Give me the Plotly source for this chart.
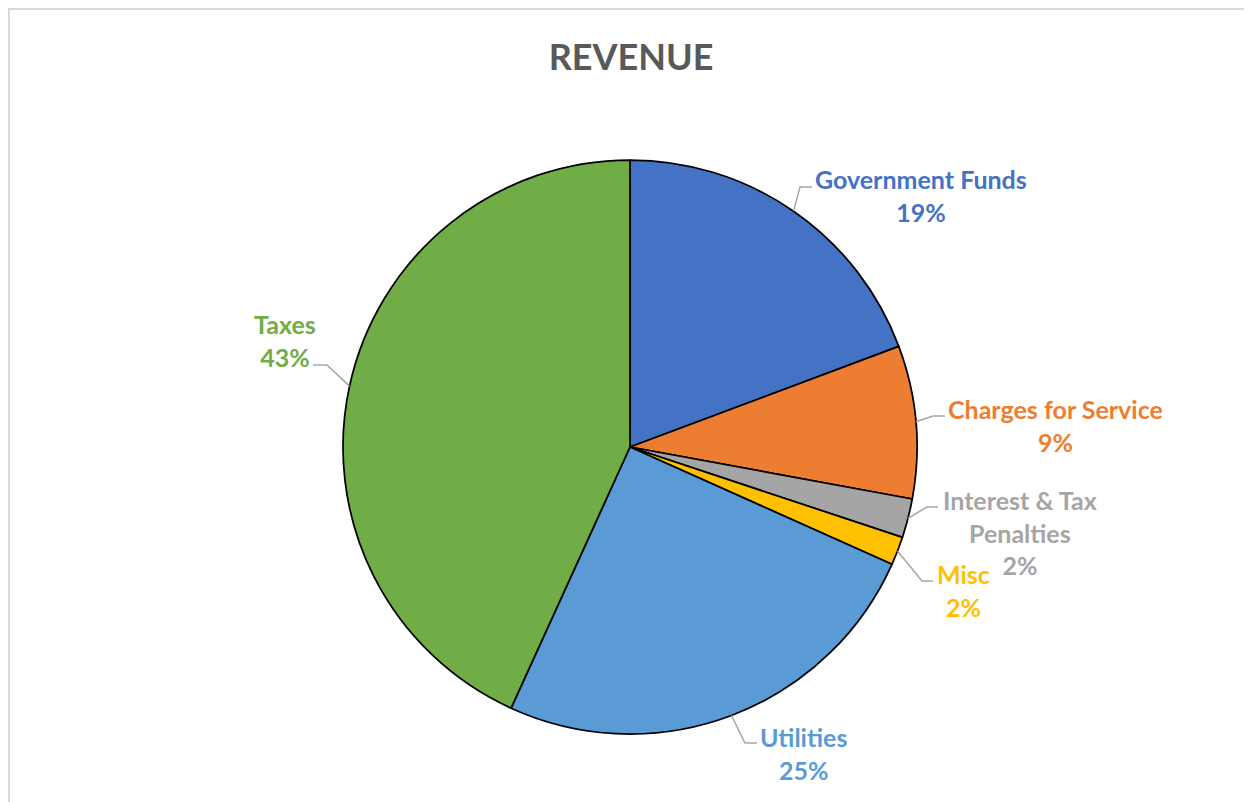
import math
import plotly.graph_objects as go

# ---- data ----
categories = ["Government Funds", "Charges for Service", "Interest & Tax Penalties",
              "Misc", "Utilities", "Taxes"]
values = [19.3, 8.6, 2.2, 1.6, 25.1, 43.2]
label_text = ["Government Funds", "Charges for Service", "Interest & Tax<br>Penalties",
              "Misc", "Utilities", "Taxes"]
colors = ["#4472C4", "#ED7D31", "#A5A5A5", "#FFC000", "#5B9BD5", "#70AD47"]

# ---- layout (screen pixels; page has an 8px body margin) ----
OFF = 8
W, H = 1244, 794
CX, CY, R = 630, 447, 287
label_centers = [(921, 196), (1055, 425), (1020, 532), (963, 590), (803, 753), (285, 341)]
leader_elbows = [((800, 187), (812, 187)), ((933, 416), (945, 416)), ((927, 507), (938, 507)),
                 ((922, 581), (933, 581)), ((745, 743), (757, 743)), ((327, 365), (313, 365))]
FONT = "Lato, 'Open Sans', sans-serif"


def px(x, y):
    return (x - OFF) / W, 1 - (y - OFF) / H


fig = go.Figure()
x0, y0 = px(CX - R, CY + R)
x1, y1 = px(CX + R, CY - R)
fig.add_trace(go.Pie(
    labels=categories, values=values, sort=False, direction="clockwise", rotation=0,
    marker=dict(colors=colors, line=dict(color="#000000", width=1.75)),
    textinfo="none", hoverinfo="label+percent", showlegend=False,
    domain=dict(x=[x0, x1], y=[y0, y1]),
))

total = sum(values)
shapes = []
annotations = []
cum = 0.0
for i, v in enumerate(values):
    mid = (cum + v / 2) / total * 2 * math.pi
    cum += v
    sx = CX + R * math.sin(mid)
    sy = CY - R * math.cos(mid)
    (ex, ey), (fx, fy) = leader_elbows[i]
    p = [px(sx, sy), px(ex, ey), px(fx, fy)]
    path = "M {} {} L {} {} L {} {}".format(p[0][0], p[0][1], p[1][0], p[1][1], p[2][0], p[2][1])
    shapes.append(dict(type="path", path=path, xref="paper", yref="paper",
                       line=dict(color="#A6A6A6", width=1.5)))
    lx, ly = px(*label_centers[i])
    pct = round(v / total * 100)
    annotations.append(dict(
        x=lx, y=ly, xref="paper", yref="paper", xanchor="center", yanchor="middle",
        text="<b>{}<br>{}%</b>".format(label_text[i], pct), showarrow=False, align="center",
        font=dict(family=FONT, size=25, color=colors[i])))

# chart border (light gray)
bx0, by1 = px(9, 9)
shapes.append(dict(type="rect", xref="paper", yref="paper", x0=bx0, x1=1.02, y0=-0.02, y1=by1,
                   line=dict(color="#D9D9D9", width=2), fillcolor="rgba(0,0,0,0)", layer="below"))

tx, ty = px(631, 57)
fig.update_layout(
    width=W, height=H, margin=dict(l=0, r=0, t=0, b=0),
    paper_bgcolor="white", plot_bgcolor="white",
    title=dict(text="<b>REVENUE</b>", x=tx, xanchor="center", y=ty, yanchor="middle",
               font=dict(family=FONT, size=36, color="#595959")),
    shapes=shapes, annotations=annotations,
)

fig.write_html("out.html")
